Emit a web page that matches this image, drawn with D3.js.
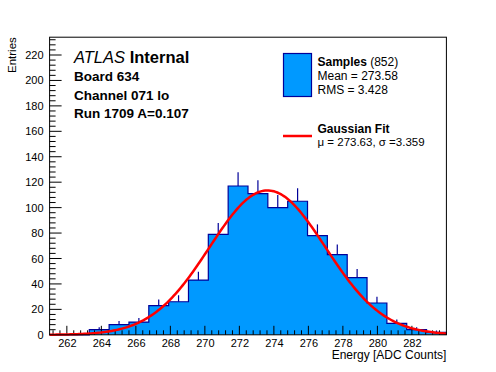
<!DOCTYPE html>
<html>
<head>
<meta charset="utf-8">
<script src="https://cdn.jsdelivr.net/npm/d3@7"></script>
<style>
    body { margin: 0; background: #fff; }
    svg { display: block; font-family: "Liberation Sans", Arial, Helvetica, sans-serif; }
</style>
</head>
<body>
<svg id="canvas" width="496" height="372"></svg>
<script>
// histogram: 20 bins between 261 and 284
const xRange = [261, 284];
const nBins = 20;
const counts = [0, 0, 4, 8, 10, 23, 26, 43, 79, 117, 111, 100, 105, 78, 63, 45, 25, 9, 4, 2];
const yMax = 234;

// gaussian fit result
const fitMean = 273.63;
const fitSigma = 3.359;
const fitAmp = 113.5;

const xTicks = [262, 264, 266, 268, 270, 272, 274, 276, 278, 280, 282];
const yTicks = [0, 20, 40, 60, 80, 100, 120, 140, 160, 180, 200, 220];

const labelLines = ["Board 634", "Channel 071 lo", "Run 1709 A=0.107"];

const W = 496;
const H = 372;
const margin = { left: 49.6, right: 49.6, top: 37.2, bottom: 37.2 };

const fillColor = "#0099ff";
const lineColor = "#000099";

const canvas = d3.select("#canvas");

const xScale = d3.scaleLinear().domain(xRange).range([margin.left, W - margin.right]);
const yScale = d3.scaleLinear().domain([0, yMax]).range([H - margin.bottom, margin.top]);

const binWidth = (xRange[1] - xRange[0]) / nBins;
const bins = counts.map((c, i) => {
    return { x0: xRange[0] + i * binWidth, x1: xRange[0] + (i + 1) * binWidth, n: c };
});

// filled histogram
const histPath = () => {
    let p = d3.path();
    p.moveTo(xScale(bins[0].x0), yScale(0));
    bins.forEach((b) => {
        p.lineTo(xScale(b.x0), yScale(b.n));
        p.lineTo(xScale(b.x1), yScale(b.n));
    });
    p.lineTo(xScale(bins[bins.length - 1].x1), yScale(0));
    return p.toString();
};

canvas.append("path")
    .attr("d", histPath() + "Z")
    .attr("fill", fillColor)
    .attr("stroke", "none");

// error bars (only the part above the bin is visible)
canvas.append("g")
    .selectAll("line")
    .data(bins.filter((b) => b.n > 0))
    .enter()
    .append("line")
    .attr("x1", (b) => xScale((b.x0 + b.x1) / 2))
    .attr("x2", (b) => xScale((b.x0 + b.x1) / 2))
    .attr("y1", (b) => yScale(b.n))
    .attr("y2", (b) => yScale(b.n + Math.sqrt(b.n)))
    .attr("stroke", lineColor)
    .attr("stroke-width", 1.2);

canvas.append("path")
    .attr("d", histPath())
    .attr("fill", "none")
    .attr("stroke", lineColor)
    .attr("stroke-width", 1.2);

// axes
const xAxis = d3.axisBottom(xScale).tickValues(xTicks).tickSize(0).tickPadding(4).tickFormat(d3.format("d"));
const yAxis = d3.axisLeft(yScale).tickValues(yTicks).tickSize(0).tickPadding(6).tickFormat(d3.format("d"));

const gx = canvas.append("g").attr("transform", `translate(0, ${H - margin.bottom})`).call(xAxis);
const gy = canvas.append("g").attr("transform", `translate(${margin.left}, 0)`).call(yAxis);
[gx, gy].forEach((g) => {
    g.select(".domain").remove();
    g.selectAll("text").attr("fill", "#000").style("font-size", "11px").style("font-family", "Liberation Sans, Arial, sans-serif");
});

// ROOT style ticks on the inside of the frame
const tickG = canvas.append("g").attr("stroke", "#000").attr("stroke-width", 1);
const xMinor = d3.range(0, 60).map((i) => 261.2 + i * 0.4).filter((v) => v < xRange[1]);
tickG.selectAll(".xt")
    .data(xMinor)
    .enter()
    .append("line")
    .attr("x1", (v) => xScale(v))
    .attr("x2", (v) => xScale(v))
    .attr("y1", yScale(0))
    .attr("y2", (v) => yScale(0) - (Math.abs(v / 2 - Math.round(v / 2)) < 0.01 ? 9 : 4.5));
const yMinor = d3.range(0, 59).map((i) => i * 4).filter((v) => v <= yMax);
tickG.selectAll(".yt")
    .data(yMinor)
    .enter()
    .append("line")
    .attr("y1", (v) => yScale(v))
    .attr("y2", (v) => yScale(v))
    .attr("x1", xScale(xRange[0]))
    .attr("x2", (v) => xScale(xRange[0]) + (v % 20 === 0 ? 12 : 6));

// gaussian fit curve
const curveX = d3.range(0, 231).map((i) => xRange[0] + i * 0.1);
const gauss = (x) => fitAmp * Math.exp(-0.5 * ((x - fitMean) / fitSigma) ** 2);
canvas.append("path")
    .datum(curveX)
    .attr("d", d3.line().x((x) => xScale(x)).y((x) => yScale(gauss(x))))
    .attr("fill", "none")
    .attr("stroke", "#ff0000")
    .attr("stroke-width", 2.5);

// frame
canvas.append("rect")
    .attr("x", margin.left)
    .attr("y", margin.top)
    .attr("width", W - margin.left - margin.right)
    .attr("height", H - margin.top - margin.bottom)
    .attr("fill", "none")
    .attr("stroke", "#000")
    .attr("stroke-width", 1);

// axis titles
canvas.append("text")
    .attr("x", W - margin.right)
    .attr("y", 359)
    .attr("text-anchor", "end")
    .style("font-size", "12px")
    .text("Energy [ADC Counts]");

canvas.append("text")
    .attr("transform", `translate(16, ${margin.top}) rotate(-90)`)
    .attr("text-anchor", "end")
    .style("font-size", "11.5px")
    .text("Entries");

// ATLAS label
const atlas = canvas.append("text").attr("x", 74).attr("y", 63).style("font-size", "16.5px");
atlas.append("tspan").style("font-style", "italic").text("ATLAS");
atlas.append("tspan").style("font-weight", "bold").text(" Internal");

canvas.selectAll(".info")
    .data(labelLines)
    .enter()
    .append("text")
    .attr("x", 74)
    .attr("y", (d, i) => 81 + i * 18.6)
    .style("font-size", "13.5px")
    .style("font-weight", "bold")
    .text((d) => d);

// legend
const legend = canvas.append("g").style("font-size", "12px");
legend.append("rect")
    .attr("x", 283.5)
    .attr("y", 53.5)
    .attr("width", 28)
    .attr("height", 43)
    .attr("fill", fillColor)
    .attr("stroke", lineColor)
    .attr("stroke-width", 1.2);
const t1 = legend.append("text").attr("x", 317.5).attr("y", 66);
t1.append("tspan").style("font-weight", "bold").text("Samples");
t1.append("tspan").text(" (852)");
legend.append("text").attr("x", 317.5).attr("y", 80).text("Mean = 273.58");
legend.append("text").attr("x", 317.5).attr("y", 94).text("RMS = 3.428");

legend.append("line")
    .attr("x1", 283)
    .attr("x2", 312)
    .attr("y1", 136)
    .attr("y2", 136)
    .attr("stroke", "#ff0000")
    .attr("stroke-width", 2.5);
legend.append("text").attr("x", 317.5).attr("y", 132.5).style("font-weight", "bold").text("Gaussian Fit");
legend.append("text").attr("x", 317.5).attr("y", 145.5).style("font-size", "11.5px").text("\u03bc = 273.63, \u03c3 =3.359");
</script>
</body>
</html>
